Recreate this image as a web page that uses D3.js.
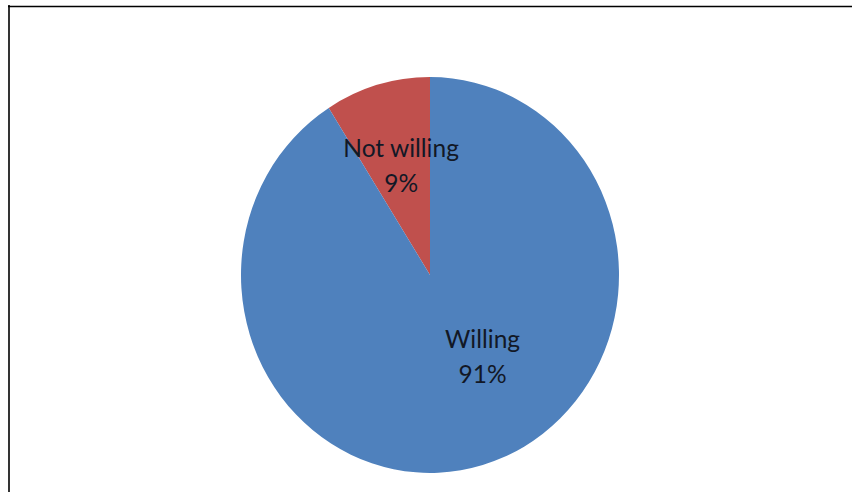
<!DOCTYPE html>
<html>
<head>
<meta charset="utf-8">
<script src="https://cdn.jsdelivr.net/npm/d3@7"></script>
<style>
  html, body { margin: 0; padding: 0; background: #fff; }
  svg { display: block; }
</style>
</head>
<body>
<svg id="chart" width="852" height="492"></svg>
<script>
// Survey responses (percent)
const categories = ["Not willing", "Willing"];
const values = [9, 91];
const valueLabels = ["9%", "91%"];
const colors = ["#C0504D", "#4F81BD"];

const width = 852, height = 492;
const cx = 430, cy = 275;
const radius = 189;
const yStretch = 1.047;

// label anchor per slice: [angle in degrees, distance from center]
const labelPlacement = [[-15.5, 108], [146.3, 94.7]];

const svg = d3.select("#chart");

// frame lines along top and left
svg.append("line").attr("x1", 8).attr("x2", width).attr("y1", 6.5).attr("y2", 6.5)
  .attr("stroke", "#000").attr("stroke-width", 1.6);
svg.append("line").attr("x1", 9).attr("x2", 9).attr("y1", 5).attr("y2", height)
  .attr("stroke", "#000").attr("stroke-width", 1.6);

const pie = d3.pie().sort(null).value(d => d)
  .startAngle(-2 * Math.PI * values[0] / 100)
  .endAngle(2 * Math.PI - 2 * Math.PI * values[0] / 100);

const arcs = pie(values);
const arc = d3.arc().innerRadius(0).outerRadius(radius);

const g = svg.append("g").attr("transform", `translate(${cx},${cy}) scale(1,${yStretch})`);

g.selectAll("path.slice")
  .data(arcs)
  .join("path")
  .attr("class", "slice")
  .attr("d", arc)
  .attr("fill", (d, i) => colors[i]);

const lg = svg.append("g").attr("transform", `translate(${cx},${cy})`);
const labels = lg.selectAll("text.lbl")
  .data(arcs)
  .join("text")
  .attr("class", "lbl")
  .attr("text-anchor", "middle")
  .attr("font-family", "Lato, 'Open Sans', sans-serif")
  .attr("font-size", 24.5)
  .attr("fill", "#121826")
  .attr("transform", (d, i) => {
    const a = labelPlacement[i][0] * Math.PI / 180, r = labelPlacement[i][1];
    return `translate(${r * Math.sin(a)},${-r * Math.cos(a) * yStretch})`;
  });

labels.append("tspan").attr("x", 0).attr("y", -9).text((d, i) => categories[i]);
labels.append("tspan").attr("x", 0).attr("y", 26).text((d, i) => valueLabels[i]);
</script>
</body>
</html>
